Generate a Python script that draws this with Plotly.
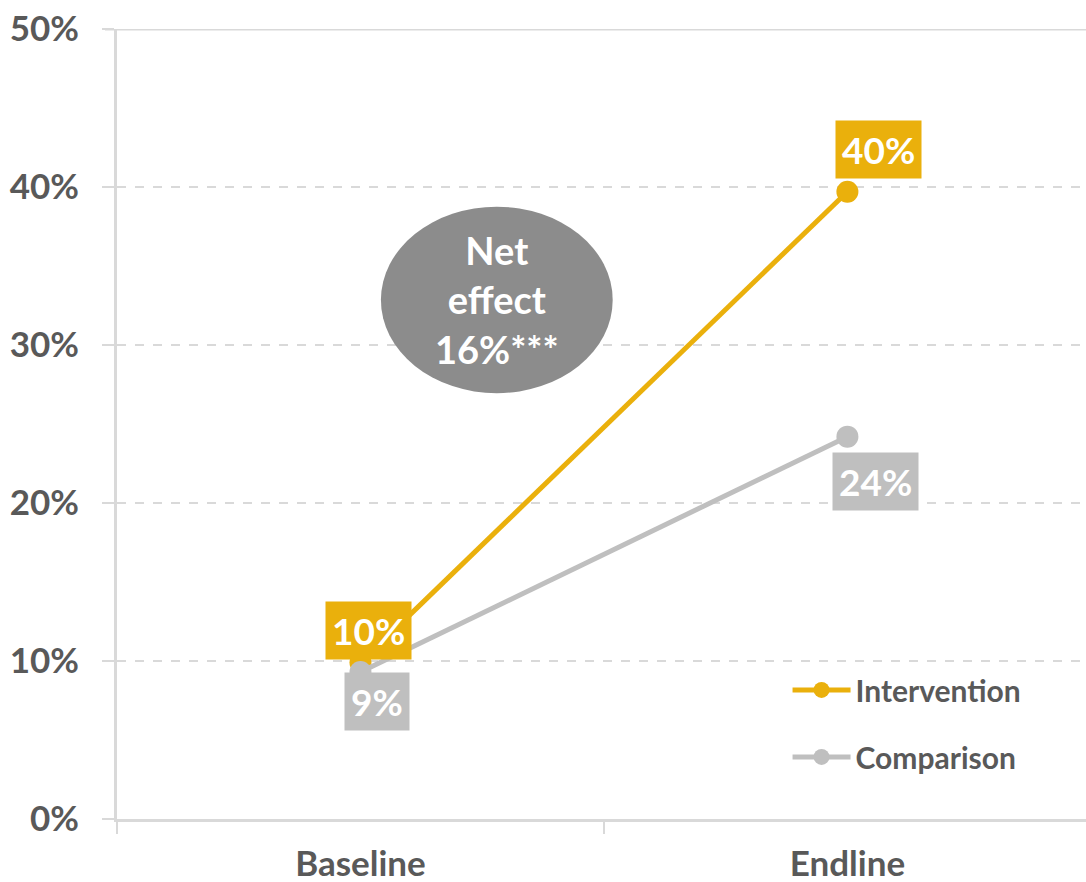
import plotly.graph_objects as go

categories = ["Baseline", "Endline"]
intervention = [9.9, 39.7]
comparison = [9.3, 24.2]
series_names = ["Intervention", "Comparison"]
y_ticks = [0, 10, 20, 30, 40, 50]
y_tick_labels = ["0%", "10%", "20%", "30%", "40%", "50%"]
net_effect_text = "Net<br>effect<br>16%***"

YELLOW = "#EAB00C"
GRAY = "#BFBFBF"
DARKGRAY = "#8C8C8C"
TEXT = "#595959"
GRID = "#D9D9D9"
FONT = "Lato"

fig = go.Figure()
fig.add_trace(go.Scatter(
    x=categories, y=intervention, name=series_names[0], mode="lines+markers",
    line=dict(color=YELLOW, width=5), marker=dict(size=22, color=YELLOW),
    legendgroup="a"))
fig.add_trace(go.Scatter(
    x=categories, y=comparison, name=series_names[1], mode="lines+markers",
    line=dict(color=GRAY, width=5), marker=dict(size=22, color=GRAY),
    legendgroup="b"))

# value labels
label_specs = [
    (intervention, YELLOW, [(8, 32), (31, 42)]),
    (comparison, GRAY, [(17, -29), (28, -45)]),
]
for values, color, shifts in label_specs:
    for cat, v, (dx, dy) in zip(categories, values, shifts):
        fig.add_annotation(
            x=cat, y=v, text=f"{round(v)}%", showarrow=False,
            xshift=dx, yshift=dy, bgcolor=color, borderpad=6,
            font=dict(family=FONT, size=37, color="white", weight="bold"))

# net effect ellipse
fig.add_shape(type="circle", xref="x", yref="y",
              x0=0.042, x1=0.518, y0=26.95, y1=38.75,
              fillcolor=DARKGRAY, line=dict(width=0), layer="above")
fig.add_annotation(x=0.28, y=32.85, xref="x", yref="y", text=net_effect_text,
                   showarrow=False,
                   font=dict(family=FONT, size=38, color="white", weight="bold"))

# solid top line at 50%
fig.add_shape(type="line", xref="paper", yref="y", x0=-12 / 969, x1=1, y0=50, y1=50,
              line=dict(color=GRID, width=3), layer="below")

fig.update_layout(
    width=1086, height=882,
    margin=dict(l=117, r=0, t=29, b=63, autoexpand=False),
    plot_bgcolor="white", paper_bgcolor="white",
    font=dict(family=FONT, color=TEXT),
    legend=dict(x=0.692, y=0.121, xanchor="left", yanchor="middle",
                font=dict(family=FONT, size=30, color=TEXT, weight="bold"),
                traceorder="grouped", tracegroupgap=25, itemwidth=58,
                bgcolor="rgba(0,0,0,0)"),
    showlegend=True,
)
fig.update_xaxes(
    type="category", range=[-0.5, 1.49], showgrid=False, automargin=False,
    showline=True, linecolor=GRID, linewidth=3,
    ticks="outside", tickson="boundaries", ticklen=12, tickwidth=2, tickcolor=GRID,
    tickfont=dict(family=FONT, size=35, color=TEXT, weight="bold"),
    ticklabelstandoff=12, fixedrange=True)
fig.update_yaxes(
    range=[0, 50], tickvals=y_ticks, ticktext=y_tick_labels, automargin=False,
    showgrid=True, gridcolor=GRID, gridwidth=2, griddash="dash",
    showline=True, linecolor=GRID, linewidth=3, zeroline=False,
    ticks="outside", ticklen=12, tickwidth=2, tickcolor=GRID,
    tickfont=dict(family=FONT, size=35, color=TEXT, weight="bold"),
    ticklabelstandoff=16, fixedrange=True)

fig.write_html("out.html")
